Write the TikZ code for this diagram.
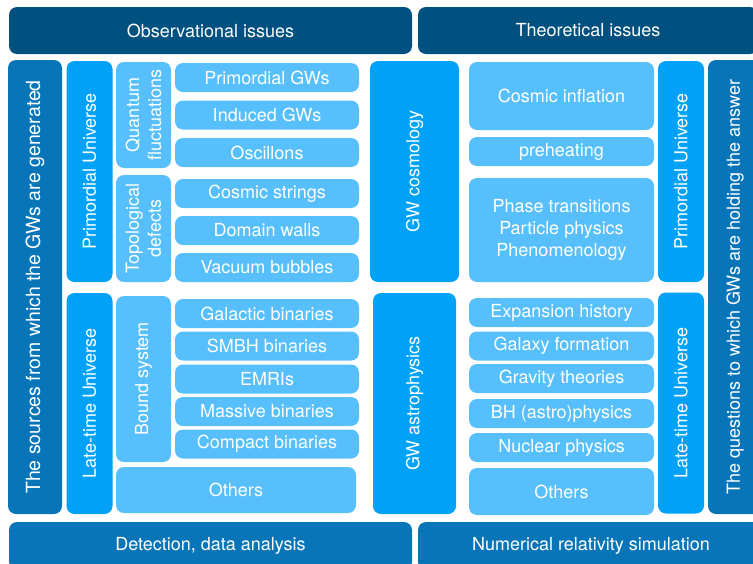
\documentclass[tikz,border=0pt]{standalone}
\usepackage{fontspec}
\setmainfont{TeX Gyre Heros}
\usepackage{xcolor}
\definecolor{navy}{RGB}{0,80,128}
\definecolor{midblue}{RGB}{8,117,184}
\definecolor{brightblue}{RGB}{0,162,247}
\definecolor{lightblue}{RGB}{87,192,252}

\begin{document}
\begin{tikzpicture}[x=1pt,y=-1pt]
    \tikzset{tile/.style={rectangle,rounded corners=8pt,inner sep=0pt,text=white,
                align=center,font=\fontsize{18}{22}\selectfont},
        header/.style={tile,fill=navy,minimum height=47},
        footer/.style={tile,fill=midblue,minimum height=48},
        side/.style={tile,fill=midblue,rotate=90,minimum width=454,minimum height=54},
        era/.style={tile,fill=brightblue,rotate=90,minimum width=221,minimum height=46},
        field/.style={tile,fill=brightblue,rotate=90,minimum width=221},
        group/.style={tile,fill=lightblue,rotate=90,minimum height=55},
        item/.style={tile,fill=lightblue,minimum height=29}}
    \useasboundingbox (0,0) rectangle (753,563);
    \clip (0,0) rectangle (753,563);

    % headers and footers
    \node[header,minimum width=403] (obs) at (210.5,30.5) {Observational issues};
    \node[header,minimum width=340] (theo) at (588,30.5) {Theoretical issues};
    \node[footer,minimum width=403] (det) at (210.5,546) {Detection, data analysis};
    \node[footer,minimum width=346] (num) at (591,546) {Numerical relativity simulation};

    % outer side bars
    \node[side,font=\fontsize{19.5}{22}\selectfont] (src) at (35,287)
        {The sources from which the GWs are generated};
    \node[side] (qst) at (735,287) {The questions to which GWs are holding the answer};

    % eras
    \node[era] (primL) at (89.5,171.5) {Primordial Universe};
    \node[era] (lateL) at (89.5,403.5) {Late-time Universe};
    \node[era] (primR) at (681,171.5) {Primordial Universe};
    \node[era] (lateR) at (681,403) {Late-time Universe};

    % source groups
    \node[group,minimum width=106] (qf) at (143.5,115) {Quantum\\fluctuations};
    \node[group,minimum width=107] (td) at (143.5,228.5) {Topological\\defects};
    \node[group,minimum width=166] (bs) at (143.5,379) {Bound system};

    % sources
    \foreach \nm/\yc/\txt in {pgw/77.5/Primordial GWs, igw/115/Induced GWs,
            osc/152.5/Oscillons, cs/193.5/Cosmic strings, dw/230.5/Domain walls,
            vb/267.5/Vacuum bubbles, gb/313.5/Galactic binaries,
            smbh/346/SMBH binaries, emri/379/EMRIs, mb/411.5/Massive binaries,
            cb/444/Compact binaries}
        \node[item,minimum width=184] (\nm) at (267,\yc) {\txt};
    \node[item,minimum width=240,minimum height=46] (othL) at (236,490) {Others};

    % middle columns
    \node[field,minimum height=89] (gwc) at (414.5,171.5) {GW cosmology};
    \node[field,minimum height=83] (gwa) at (414.5,403.5) {GW astrophysics};

    % questions
    \node[item,minimum width=185,minimum height=68] (ci) at (561.5,96) {Cosmic inflation};
    \node[item,minimum width=185] (pre) at (561.5,151.5) {preheating};
    \node[item,minimum width=185,minimum height=104] (pt) at (561.5,230)
        {Phase transitions\\Particle physics\\Phenomenology};
    \foreach \nm/\yc/\txt in {eh/312.5/Expansion history, gf/346/Galaxy formation,
            gt/378.5/Gravity theories, bh/413.5/BH (astro)physics,
            np/447.5/Nuclear physics}
        \node[item,minimum width=185] (\nm) at (561.5,\yc) {\txt};
    \node[item,minimum width=185,minimum height=47] (othR) at (561.5,491.5) {Others};
\end{tikzpicture}
\end{document}
